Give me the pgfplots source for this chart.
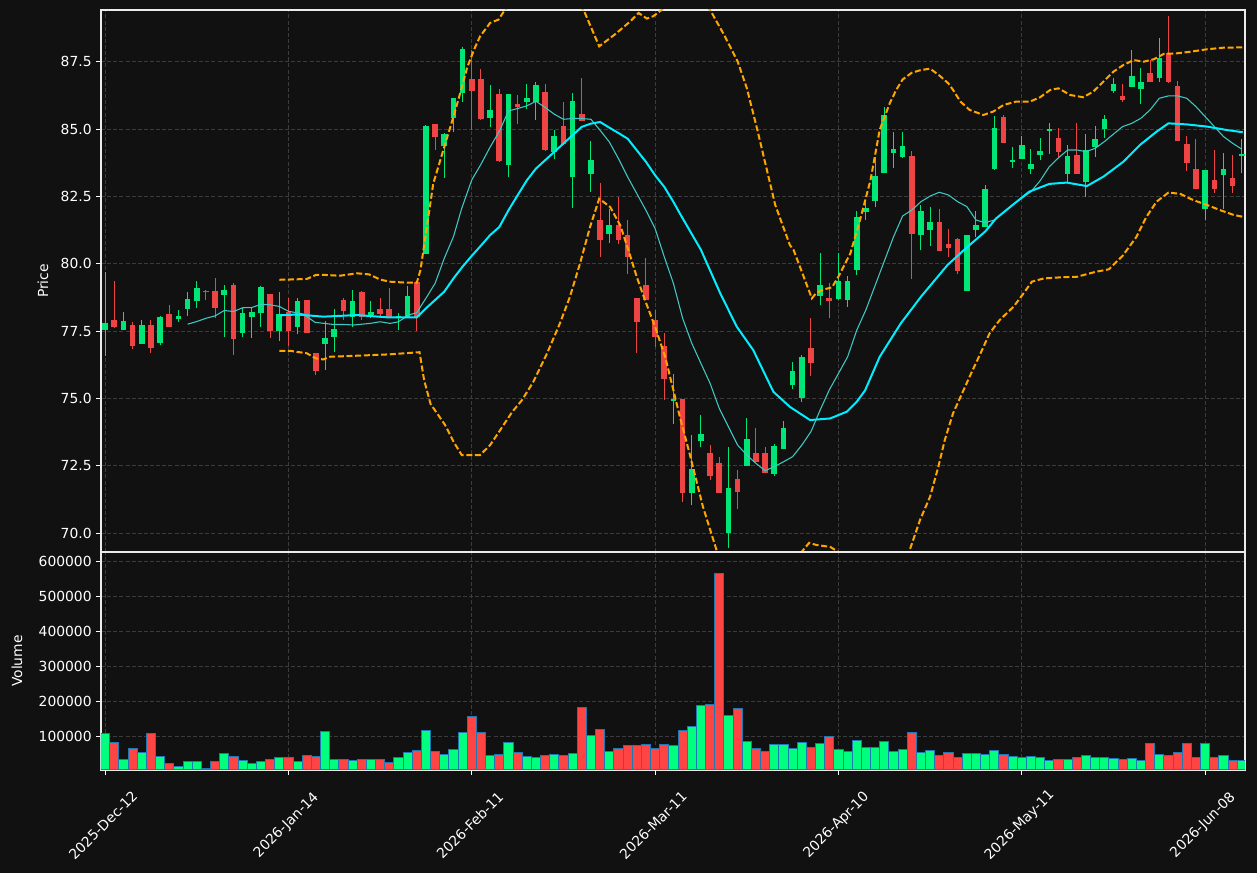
\documentclass[border=0pt]{standalone}
\usepackage{pgfplots}
\pgfplotsset{compat=1.18}
\usepackage{pgfplotstable}
\usepackage{fontspec}
\setmainfont{DejaVu Sans}
\definecolor{bgc}{HTML}{111111}
\definecolor{gridc}{HTML}{3C3C3C}
\definecolor{cgreen}{HTML}{00E676}
\definecolor{cred}{HTML}{EF4444}
\definecolor{vgreen}{HTML}{00FF7F}
\definecolor{vred}{HTML}{FF4444}
\definecolor{edgeblue}{HTML}{1F77B4}
\definecolor{sma20}{HTML}{00EEFF}
\definecolor{sma10}{HTML}{40C8C4}
\definecolor{bband}{HTML}{FFA500}
\pgfplotsset{
  darkax/.style={
    scale only axis, width=858pt,
    axis background/.style={fill=bgc},
    axis line style={draw=white!92!black, line width=0.8pt},
    tick style={draw=white, line width=0.8pt},
    tick align=outside, major tick length=3.5pt,
    xtick pos=bottom, ytick pos=left,
    grid=major,
    major grid style={draw=gridc, line width=0.7pt, dash pattern=on 3pt off 1.6pt},
    ticklabel style={font=\fontsize{10.4}{12.5}\selectfont, text=white},
    label style={font=\fontsize{10.4}{12.5}\selectfont, text=white},
    xmin=-0.45, xmax=124.35, enlargelimits=false,
    xtick={0,20,40,60,80,100,120},
    /pgf/number format/assume math mode=true,
  },
  wick/.style={draw=none, mark=none, color=#1,
    error bars/.cd, y dir=plus, y explicit, error mark=none,
    error bar style={line width=0.75pt, draw=#1, solid}},
  body/.style={draw=none, mark=none, color=#1,
    error bars/.cd, y dir=plus, y explicit, error mark=none,
    error bar style={line width=4.2pt, draw=#1, solid}},
}
\begin{document}
% up candles (close above open)
\pgfplotstableread{
x o h l c v
0 77.55 79.71 76.58 77.82 108600
2 77.55 78.22 77.53 77.88 34300
4 77.03 77.92 77.01 77.74 54300
6 77.08 78.05 77.00 78.03 42900
8 77.97 78.28 77.86 78.07 13300
9 78.34 78.95 78.07 78.70 28600
10 78.64 79.37 78.38 79.11 28600
13 78.83 79.22 77.30 79.04 51400
15 77.45 78.38 77.30 78.18 31400
16 78.01 78.39 77.24 78.22 22900
17 78.16 79.17 77.67 79.15 28600
19 77.49 78.95 77.15 78.14 40000
21 77.67 78.72 77.38 78.62 28600
24 77.02 77.88 76.06 77.23 114300
25 77.29 78.31 76.71 77.57 34300
27 78.01 79.03 77.64 78.62 31400
29 78.10 78.62 77.98 78.20 34300
32 77.98 78.19 77.54 78.05 40000
33 78.01 79.18 77.99 78.81 54300
35 80.38 85.16 80.37 85.12 117100
37 84.39 84.85 83.18 84.81 48600
38 85.43 86.17 84.89 86.16 62900
39 86.34 88.04 86.03 87.97 111400
42 85.42 86.63 85.09 85.71 45700
44 83.66 86.31 83.23 86.30 82900
46 86.00 86.67 85.77 86.15 42900
47 86.02 86.76 85.36 86.63 40000
49 84.16 84.99 83.91 84.74 48600
51 83.23 86.36 82.09 86.04 51400
53 83.33 84.55 82.67 83.85 102900
55 81.10 82.05 80.78 81.43 57100
62 74.92 75.91 74.05 74.98 74300
64 71.50 73.63 71.03 72.38 128600
65 73.43 74.39 73.21 73.68 188600
68 70.01 73.21 69.43 71.67 160000
70 72.50 74.26 72.49 73.49 85700
73 72.18 73.31 72.13 73.23 77100
74 73.13 74.15 73.12 73.90 77100
75 75.51 76.34 75.34 76.02 65700
76 75.03 76.60 74.88 76.54 82900
78 78.82 80.39 78.47 79.22 80000
80 78.69 80.40 78.67 79.36 62900
81 78.66 79.56 78.39 79.36 57100
82 79.77 81.95 79.60 81.75 88600
83 81.94 82.37 81.63 82.09 68600
84 82.35 83.98 82.13 83.27 68600
85 83.37 85.82 83.36 85.53 85700
86 84.13 84.89 83.55 84.27 57100
87 83.98 84.89 83.92 84.38 62900
89 81.09 82.20 80.50 81.97 54300
90 81.27 82.10 80.65 81.56 60000
94 79.01 81.08 79.00 81.07 51400
95 81.26 81.95 81.01 81.45 51400
96 81.38 82.93 81.37 82.78 48600
97 83.53 85.51 83.49 85.05 60000
99 83.79 84.33 83.55 83.86 42900
100 83.90 84.75 83.89 84.42 40000
101 83.53 84.26 83.32 83.71 42900
102 84.05 84.67 83.84 84.20 40000
103 84.95 85.22 84.08 85.01 31400
105 83.34 84.42 83.02 84.01 34300
107 83.04 84.81 82.50 84.23 45700
108 84.35 85.12 83.98 84.64 40000
109 85.02 85.52 84.66 85.38 40000
110 86.43 86.92 86.34 86.68 37100
112 86.58 87.95 86.57 86.98 37100
113 86.50 87.26 85.93 86.76 31400
115 86.92 88.38 86.77 87.64 48600
120 82.03 83.50 81.63 83.49 80000
122 83.31 84.11 82.05 83.51 45700
124 84.02 84.63 83.36 84.08 31400
}\upT
% down candles (close below open)
\pgfplotstableread{
x o h l c v
1 77.92 79.37 77.62 77.64 82900
3 77.74 77.86 76.84 76.96 65700
5 77.74 77.92 76.68 76.89 108600
7 78.14 78.47 77.65 77.67 22900
11 79.00 79.02 78.66 78.94 8600
12 79.00 79.47 77.98 78.38 28600
14 79.22 79.28 76.60 77.21 42900
18 78.89 78.90 77.24 77.52 34300
20 78.23 78.73 76.96 77.49 40000
22 78.66 78.67 77.43 77.44 45700
23 76.68 76.69 75.87 76.02 42900
26 78.66 78.72 77.91 78.26 34300
28 78.95 79.00 77.91 78.01 34300
30 78.32 78.72 78.01 78.14 34300
31 78.32 79.09 78.00 78.01 25700
34 79.31 79.32 77.52 78.01 60000
36 85.20 85.21 84.23 84.73 57100
40 86.86 87.95 84.97 86.43 157100
41 86.86 87.23 85.35 85.37 111400
43 86.30 86.51 83.80 83.82 48600
45 85.93 86.26 85.21 85.83 54300
48 86.37 86.67 84.20 84.22 45700
50 85.11 86.02 84.42 84.44 45700
52 85.56 86.92 85.30 85.31 182900
54 81.62 83.02 80.26 80.88 120000
56 81.43 82.49 80.73 80.88 65700
57 81.06 81.62 79.61 80.26 74300
58 78.72 78.73 76.69 77.83 74300
59 79.20 80.23 78.65 78.67 77100
60 77.90 78.30 76.91 77.28 65700
61 76.96 77.43 74.93 75.74 77100
63 74.98 75.00 71.17 71.50 117100
66 72.97 73.26 71.99 72.13 191400
67 72.59 72.83 71.49 71.50 565700
69 72.01 72.36 70.88 71.54 180000
71 72.97 73.89 72.64 72.65 65700
72 72.97 73.21 72.23 72.24 57100
77 76.88 77.98 75.85 76.33 68600
79 78.72 79.28 77.98 78.63 100000
88 84.01 84.21 79.43 81.12 111400
91 81.56 82.03 80.48 80.49 45700
92 80.74 81.28 80.27 80.60 54300
93 80.93 80.95 79.61 79.74 40000
98 85.45 85.53 84.49 84.50 48600
104 84.68 85.04 83.98 84.17 34300
106 84.04 85.22 83.33 83.34 40000
111 86.24 86.68 86.03 86.09 34300
114 87.09 87.57 86.76 86.77 80000
116 87.82 89.21 86.73 86.77 45700
117 86.61 86.81 84.57 84.58 54300
118 84.45 84.75 83.46 83.76 80000
119 83.52 84.63 82.78 82.79 40000
121 83.12 84.22 82.62 82.77 40000
123 83.19 84.04 82.62 82.91 31400
}\downT
\begin{tikzpicture}
\useasboundingbox (0pt,0pt) rectangle (942.75pt,654.75pt);
\fill[bgc] (0pt,0pt) rectangle (942.75pt,654.75pt);
% ---------------- price panel ----------------
\begin{axis}[darkax, at={(75.75pt,240.75pt)}, anchor=south west,
  height=406.5pt, ymin=69.30, ymax=89.43,
  ytick={70,72.5,75,77.5,80,82.5,85,87.5},
  yticklabel style={/pgf/number format/.cd, fixed, fixed zerofill, precision=1},
  xticklabels={}, xtick style={draw=none},
  ylabel={Price},
  ylabel style={at={(axis description cs:-0.0507,0.5)}, anchor=center},
]
\addplot[wick=cgreen] table[x=x, y=l, y error expr={\thisrow{h}-\thisrow{l}}] \upT;
\addplot[body=cgreen] table[x=x, y=o, y error expr={max(\thisrow{c}-\thisrow{o},0.04)}] \upT;
\addplot[wick=cred] table[x=x, y=l, y error expr={\thisrow{h}-\thisrow{l}}] \downT;
\addplot[body=cred] table[x=x, y=c, y error expr={max(\thisrow{o}-\thisrow{c},0.04)}] \downT;
% SMA 10 (thin)
\addplot[sma10, line width=0.8pt, mark=none] coordinates {
(9,77.76)(10,77.86)(11,77.98)(12,78.07)(13,78.27)(14,78.23)(15,78.37)(16,78.38)(17,78.5)(18,78.48)(19,78.42)(20,78.24)(21.6,78.14)(22.9,77.83)(24.9,77.75)(26,77.75)(27.1,77.73)(28.9,77.79)(30,77.85)(31.1,77.79)(32,77.85)(33.1,78.1)(34,78.19)(35.1,78.78)(36,79.28)(37,80.21)(38,81.01)(38.9,82.06)(40,83.12)(41,83.7)(42,84.34)(43,84.92)(44,85.68)(45,85.77)(46,85.87)(47,86.04)(48,85.81)(49,85.56)(50,85.37)(51,85.4)(52,85.4)(53,85.37)(54,84.96)(55,84.53)(56,83.91)(57,83.23)(58,82.61)(59,81.99)(60,81.31)(61,80.26)(62,79.27)(63,77.98)(64,77.05)(65,76.3)(66,75.56)(67,74.63)(68,73.95)(69,73.27)(70,72.9)(71,72.59)(72,72.32)(73,72.47)(74,72.65)(75,72.84)(76,73.27)(77,73.77)(78,74.57)(79,75.32)(80,75.93)(81,76.55)(82,77.54)(83,78.3)(84,79.2)(85,80.1)(86,81.0)(87,81.78)(88,82.0)(89,82.31)(90,82.52)(91,82.66)(92,82.56)(93,82.31)(94,82.13)(95,81.63)(96,81.53)(97,81.63)(98,81.9)(99,82.19)(100,82.44)(101,82.68)(102,83.09)(103,83.61)(104,83.94)(105,84.23)(106,84.23)(107,84.17)(108,84.29)(109,84.54)(110,84.82)(111,85.1)(112,85.22)(113,85.41)(114,85.72)(115,86.15)(116,86.24)(117,86.24)(118,86.15)(119,85.84)(120,85.47)(121,85.1)(122,84.73)(123,84.48)(124,84.26)
};
% SMA 20 (thick)
\addplot[sma20, line width=1.5pt, mark=none] coordinates {
(19,78.09)(21,78.12)(23.8,78.04)(27.5,78.1)(31,78.01)(34,78.01)(35,78.35)(36,78.66)(37,78.97)(38,79.46)(39,79.9)(40,80.3)(41,80.68)(42,81.07)(43,81.37)(44,81.99)(45,82.55)(46,83.1)(47,83.54)(48,83.85)(49,84.16)(50,84.47)(51,84.78)(52,85.09)(53,85.21)(54,85.27)(55,85.06)(56,84.86)(57,84.65)(58,84.22)(59,83.79)(60,83.29)(61,82.86)(62,82.3)(62.7,81.87)(65,80.52)(67.1,78.91)(68.9,77.67)(70.7,76.8)(72.9,75.25)(74.7,74.69)(76.9,74.2)(79.1,74.26)(80.9,74.51)(82,74.88)(82.9,75.3)(84.5,76.55)(86.8,77.79)(89,78.78)(91.9,79.96)(93.9,80.58)(96,81.2)(97.2,81.69)(99,82.19)(100.8,82.68)(103,82.97)(104.9,83.02)(107.1,82.89)(108.9,83.24)(111.1,83.8)(112.9,84.42)(114.7,84.91)(116,85.22)(118,85.18)(120.2,85.1)(122.4,84.97)(124.1,84.89)
};
% upper band
\addplot[bband, line width=1.5pt, dash pattern=on 4.5pt off 2pt, mark=none] coordinates {
(19,79.41)(20.2,79.42)(22,79.44)(23,79.59)(24,79.59)(25.6,79.56)(27.5,79.65)(28.8,79.61)(30,79.42)(31,79.34)(33,79.3)(34,79.3)(34.4,79.77)(35.1,81.38)(35.8,82.99)(36.9,84.23)(38,85.47)(38.7,86.3)(39.5,87.3)(40.3,88.0)(40.9,88.45)(42,88.95)(42.9,89.07)(43.6,89.43)(45,89.9)(48,90.3)(50,90.1)(52.2,89.43)(53.9,88.08)(55.6,88.52)(57.3,89.01)(58.2,89.32)(59.1,89.11)(59.8,89.2)(60.7,89.43)(62,89.9)(64,90.1)(66,89.43)(67.5,88.52)(69,87.52)(70,86.53)(71.1,85.05)(73.1,82.19)(74.7,80.7)(75.1,80.52)(76.2,79.53)(77.1,78.72)(77.6,78.93)(78.4,79.05)(79.3,79.13)(80,79.53)(81.3,80.39)(82.4,81.69)(83.5,83.12)(84.5,84.98)(85.6,85.97)(86.3,86.46)(87,86.85)(88,87.1)(89,87.2)(90,87.25)(91,87.0)(92,86.7)(92.5,86.46)(93.3,86.03)(94.3,85.72)(95.8,85.53)(96.9,85.66)(98,85.9)(99.4,86.03)(100.9,86.03)(102,86.19)(103.1,86.46)(104,86.52)(105.3,86.27)(106.7,86.19)(107.8,86.4)(108.9,86.77)(110,87.14)(111.1,87.39)(112.2,87.57)(113.3,87.51)(114.4,87.6)(115.5,87.8)(116.9,87.82)(118.4,87.88)(120.2,87.97)(122,88.03)(124.1,88.04)
};
% lower band
\addplot[bband, line width=1.5pt, dash pattern=on 4.5pt off 2pt, mark=none] coordinates {
(19,76.77)(20.2,76.77)(22,76.68)(23,76.49)(23.8,76.45)(24.5,76.55)(27.5,76.59)(31,76.64)(33.9,76.71)(34.3,76.72)(34.8,75.68)(35.5,74.8)(37.1,74.01)(38,73.4)(38.9,72.9)(40.9,72.9)(42,73.27)(43.1,73.83)(44.4,74.5)(45.45,74.93)(46.7,75.61)(48.2,76.67)(49.6,77.78)(50.7,78.77)(51.8,80.01)(52.9,81.37)(53.9,82.42)(55.1,82.11)(56.2,81.43)(57.1,80.5)(58,79.51)(58.9,78.65)(60,77.66)(61.1,76.54)(62,75.3)(62.7,74.32)(63.8,72.9)(65.2,71.0)(66.7,69.37)(67.5,68.8)(70,68.4)(73,68.3)(75,68.9)(76,69.31)(76.8,69.64)(77.6,69.56)(79.1,69.49)(80,69.3)(82,68.8)(85,68.6)(87.7,69.3)(88.9,70.49)(90,71.36)(90.9,72.47)(91.6,73.46)(92.5,74.45)(93.5,75.2)(94.4,75.88)(95.5,76.68)(96.5,77.43)(97.6,77.92)(99.1,78.41)(100.2,78.91)(101.1,79.34)(102.4,79.46)(104.2,79.5)(106,79.52)(108,79.7)(109.5,79.8)(111,80.3)(112.5,81.0)(113.6,81.75)(114.7,82.31)(116,82.65)(117.3,82.6)(118.7,82.37)(120.2,82.19)(121.6,82.0)(123.1,81.82)(124.1,81.75)
};
\end{axis}
% ---------------- volume panel ----------------
\begin{axis}[darkax, at={(75.75pt,77.25pt)}, anchor=south west,
  height=163.5pt, ymin=3700, ymax=626600,
  ytick={100000,200000,300000,400000,500000,600000},
  scaled y ticks=false,
  yticklabel style={/pgf/number format/.cd, fixed, 1000 sep={}},
  xticklabels={2025-Dec-12,2026-Jan-14,2026-Feb-11,2026-Mar-11,2026-Apr-10,2026-May-11,2026-Jun-08},
  xticklabel style={anchor=center, yshift=-38pt, xshift=-1.5pt, rotate=45},
  ylabel={Volume},
  ylabel style={at={(axis description cs:-0.0734,0.5)}, anchor=center},
]
\addplot[ybar, bar width=1, bar shift=0pt, fill=vgreen, draw=edgeblue, line width=0.75pt] table[x=x, y=v] \upT;
\addplot[ybar, bar width=1, bar shift=0pt, fill=vred, draw=edgeblue, line width=0.75pt] table[x=x, y=v] \downT;
\end{axis}
\end{tikzpicture}
\end{document}
